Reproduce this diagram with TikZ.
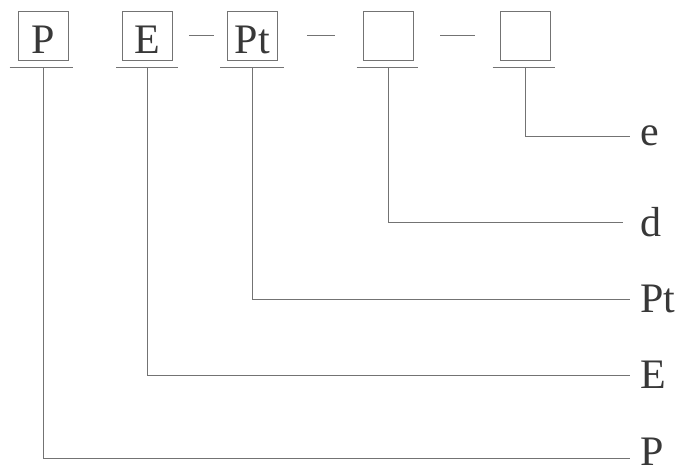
\documentclass[tikz,border=0pt]{standalone}
\usepackage{fontspec}
\setmainfont{Liberation Serif}
\usetikzlibrary{calc}
\colorlet{linegray}{black!55}
\colorlet{textgray}{black!78}

\begin{document}
\begin{tikzpicture}[x=1pt,y=-1pt]
  \tikzstyle{rule}=[draw=linegray,line width=0.9pt]
  \tikzstyle{field}=[rule,text=textgray,minimum width=50pt,minimum height=49pt,inner sep=0pt,text height=35pt,text depth=0pt,font=\fontsize{42}{42}\selectfont]
  \tikzstyle{lab}=[anchor=west,text=textgray,inner xsep=10pt,inner ysep=0pt,font=\fontsize{42}{42}\selectfont]
  \useasboundingbox (0,0) rectangle (678,471);
  \node[field] (fP) at (43,35.5) {P};
  \node[field] (fE) at (147.5,35.5) {E};
  \node[field] (fPt) at (252.5,35.5) {Pt};
  \node[field] (fd) at (388,35.5) {};
  \node[field] (fe) at (525,35.5) {};
  \node[lab] (le) at (630,136) {e};
  \node[lab] (ld) at (630,222) {d};
  \node[lab] (lPt) at (630,299) {Pt};
  \node[lab] (lE) at (630,375) {E};
  \coordinate (cP) at (630,458);
  \node[lab] (lP) at ($(cP)+(0,-6)$) {P};
  % dashes between the fields
  \draw[rule,shorten <=16pt,shorten >=13pt] (fE.east) -- (fPt.west);
  \draw[rule,shorten <=29pt,shorten >=28pt] (fPt.east) -- (fd.west);
  \draw[rule,shorten <=27pt,shorten >=25pt] (fd.east) -- (fe.west);
  % underlines
  \draw[rule] ($(fP.south west)+(-8,7)$) -- ($(fP.south east)+(5,7)$);
  \draw[rule] ($(fE.south west)+(-6,7)$) -- ($(fE.south east)+(5,7)$);
  \draw[rule] ($(fPt.south west)+(-7,7)$) -- ($(fPt.south east)+(6,7)$);
  \draw[rule] ($(fd.south west)+(-6,7)$) -- ($(fd.south east)+(5,7)$);
  \draw[rule] ($(fe.south west)+(-7,7)$) -- ($(fe.south east)+(5,7)$);
  % leaders
  \draw[rule] ($(fP.south)+(0,7)$) |- (cP);
  \draw[rule] ($(fE.south)+(0,7)$) |- (lE.west);
  \draw[rule] ($(fPt.south)+(0,7)$) |- (lPt.west);
  \draw[rule,shorten >=7pt] ($(fd.south)+(0,7)$) |- (ld.west);
  \draw[rule] ($(fe.south)+(0,7)$) |- (le.west);
\end{tikzpicture}
\end{document}
